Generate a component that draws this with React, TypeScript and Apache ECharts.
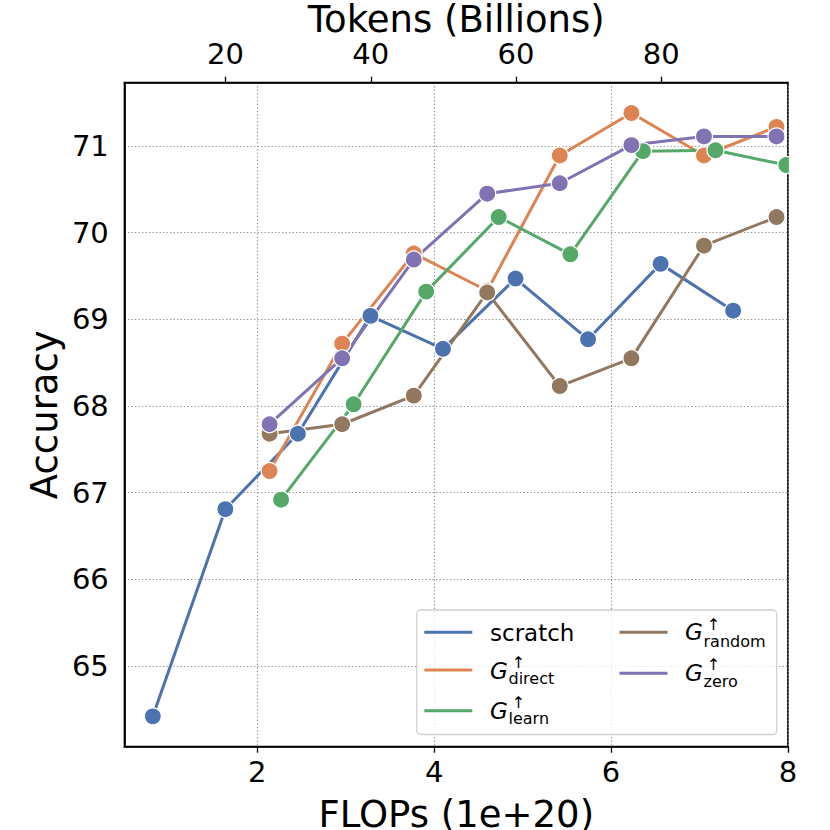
import React, { useEffect, useRef } from "react";
import * as echarts from "echarts";

// ---- data ----
const FLOPS_MIN = 0.5;
const FLOPS_MAX = 8;
const ACC_MIN = 64.07;
const ACC_MAX = 71.73;
const FLOPS_PER_BTOKEN = 0.0821; // FLOPs (1e20) per billion tokens

const flopTicks = [2, 4, 6, 8];
const tokenTicks = [20, 40, 60, 80];
const accTicks = [65, 66, 67, 68, 69, 70, 71];

const scratchX = [0.82, 1.64, 2.46, 3.28, 4.1, 4.92, 5.74, 6.56, 7.38];
const scratchY = [64.42, 66.81, 67.68, 69.04, 68.66, 69.47, 68.77, 69.64, 69.1];

const directX = [2.14, 2.96, 3.77, 4.6, 5.42, 6.23, 7.05, 7.87];
const directY = [67.25, 68.72, 69.76, 69.33, 70.89, 71.38, 70.89, 71.22];

const learnX = [2.27, 3.09, 3.91, 4.73, 5.54, 6.36, 7.18, 7.98];
const learnY = [66.92, 68.02, 69.32, 70.18, 69.75, 70.94, 70.95, 70.78];

const randomX = [2.14, 2.96, 3.77, 4.6, 5.42, 6.23, 7.05, 7.87];
const randomY = [67.68, 67.79, 68.12, 69.31, 68.23, 68.55, 69.85, 70.18];

const zeroX = [2.14, 2.96, 3.77, 4.6, 5.42, 6.23, 7.05, 7.87];
const zeroY = [67.79, 68.55, 69.69, 70.45, 70.57, 71.01, 71.11, 71.11];

const COLORS = {
  scratch: "#4C72B0",
  direct: "#DD8452",
  learn: "#55A868",
  random: "#937860",
  zero: "#8172B3",
};

const FONT = "DejaVu Sans";

function pairs(xs: number[], ys: number[]) {
  return xs.map((x, i) => [x, ys[i]]);
}

function lineSeries(name: string, color: string, xs: number[], ys: number[]) {
  return {
    name,
    type: "line",
    data: pairs(xs, ys),
    symbol: "circle",
    symbolSize: 17,
    showSymbol: true,
    lineStyle: { color, width: 3 },
    itemStyle: { color, borderColor: "#ffffff", borderWidth: 1.2 },
    emphasis: { disabled: true },
    silent: true,
    clip: true,
  };
}

function legendItem(
  color: string,
  lx: number,
  ly: number,
  tx: number,
  base: number,
  sub: string | null,
  subBase: number,
  arrowY: number,
  plain: string | null
) {
  const els: any[] = [
    {
      type: "line",
      shape: { x1: lx, y1: ly, x2: lx + 48, y2: ly },
      style: { stroke: color, lineWidth: 3 },
      z: 101,
    },
  ];
  if (plain) {
    els.push({
      type: "text",
      x: tx,
      y: base - 0.33 * 23,
      style: {
        text: plain,
        fontSize: 23,
        fontFamily: FONT,
        fill: "#000",
        align: "left",
        verticalAlign: "middle",
      },
      z: 101,
    });
  } else {
    els.push({
      type: "text",
      x: tx,
      y: base - 0.33 * 23,
      style: {
        text: "G",
        fontSize: 23,
        fontStyle: "italic",
        fontFamily: FONT,
        fill: "#000",
        align: "left",
        verticalAlign: "middle",
      },
      z: 101,
    });
    els.push({
      type: "text",
      x: tx + 18.5,
      y: subBase - 0.33 * 16,
      style: {
        text: sub,
        fontSize: 16,
        lineHeight: 12,
        fontFamily: FONT,
        fill: "#000",
        align: "left",
        verticalAlign: "middle",
      },
      z: 101,
    });
    els.push({
      type: "text",
      x: tx + 28.5,
      y: arrowY - 1,
      style: {
        text: "\u2191",
        fontSize: 16,
        lineHeight: 9,
        fontFamily: FONT,
        fill: "#000",
        align: "center",
        verticalAlign: "middle",
      },
      z: 101,
    });
  }
  return els;
}

export default function App() {
  const ref = useRef<HTMLDivElement>(null);

  useEffect(() => {
    if (!ref.current) return;
    const chart = echarts.init(ref.current, null, { renderer: "svg" });

    const gridTop = 82.7;
    const gridLeft = 124.5;
    const gridRight = 42;
    const gridBottom = 83.3;

    const legendEls: any[] = [
      // mask: markers are clipped at the right frame, as in the reference
      {
        type: "rect",
        shape: { x: 830 - gridRight + 0.9, y: gridTop - 10, width: 60, height: 830 - gridTop - gridBottom + 9 },
        style: { fill: "#ffffff" },
        z: 90,
        silent: true,
      },
      {
        type: "rect",
        shape: { x: 416.7, y: 610, width: 360, height: 124.5, r: 4 },
        style: { fill: "rgba(255,255,255,0.8)", stroke: "#d0d0d0", lineWidth: 1.3 },
        z: 100,
      },
      ...legendItem(COLORS.scratch, 424.3, 632.3, 490, 641, null, 0, 0, "scratch"),
      ...legendItem(COLORS.direct, 424.3, 670, 490, 679, "direct", 684, 663, null),
      ...legendItem(COLORS.learn, 424.3, 710.7, 490, 718.3, "learn", 724, 703.3, null),
      ...legendItem(COLORS.random, 619.5, 632.3, 685, 640, "random", 646.7, 625, null),
      ...legendItem(COLORS.zero, 619.5, 673.3, 685, 681, "zero", 686.7, 665, null),
    ];

    chart.setOption({
      animation: false,
      backgroundColor: "#ffffff",
      textStyle: { fontFamily: FONT },
      grid: {
        show: true,
        left: gridLeft,
        right: gridRight,
        top: gridTop,
        bottom: gridBottom,
        borderColor: "#000000",
        borderWidth: 1.7,
        backgroundColor: "transparent",
        containLabel: false,
        outerBoundsMode: "none",
      },
      xAxis: [
        {
          type: "value",
          position: "bottom",
          min: FLOPS_MIN,
          max: FLOPS_MAX,
          splitNumber: 4,
          name: "FLOPs (1e+20)",
          nameLocation: "middle",
          nameGap: 49,
          nameMoveOverlap: false,
          nameTextStyle: { fontSize: 37, color: "#000", fontFamily: FONT },
          axisLine: { show: true, lineStyle: { color: "#000", width: 1.7 } },
          axisTick: {
            show: true,
            length: 6,
            lineStyle: { color: "#000", width: 1.3 },
            customValues: flopTicks,
          },
          axisLabel: {
            fontSize: 29,
            color: "#000",
            margin: 11,
            customValues: flopTicks,
            formatter: (v: number) => String(v),
          },
          splitLine: {
            show: true,
            lineStyle: { color: "#8f8f8f", width: 1.2, type: [1.3, 2.2] },
          },
        },
        {
          type: "value",
          position: "top",
          min: FLOPS_MIN / FLOPS_PER_BTOKEN,
          max: FLOPS_MAX / FLOPS_PER_BTOKEN,
          splitNumber: 5,
          name: "Tokens (Billions)",
          nameLocation: "middle",
          nameGap: 44.7,
          nameMoveOverlap: false,
          nameTextStyle: { fontSize: 37, color: "#000", fontFamily: FONT },
          axisLine: { show: true, lineStyle: { color: "#000", width: 1.7 } },
          axisTick: {
            show: true,
            length: 6,
            lineStyle: { color: "#000", width: 1.3 },
            customValues: tokenTicks,
          },
          axisLabel: {
            fontSize: 29,
            color: "#000",
            margin: 14.5,
            customValues: tokenTicks,
            formatter: (v: number) => String(v),
          },
          splitLine: { show: false },
        },
      ],
      yAxis: {
        type: "value",
        min: ACC_MIN,
        max: ACC_MAX,
        splitNumber: 7,
        name: "Accuracy",
        nameLocation: "middle",
        nameRotate: 90,
        nameGap: 62,
        nameMoveOverlap: false,
        nameTextStyle: { fontSize: 37, color: "#000", fontFamily: FONT },
        axisLine: { show: true, lineStyle: { color: "#000", width: 1.7 } },
        axisTick: { show: false, customValues: accTicks },
        axisLabel: {
          fontSize: 29,
          color: "#000",
          margin: 15.7,
          customValues: accTicks,
          formatter: (v: number) => String(v),
        },
        splitLine: {
          show: true,
          lineStyle: { color: "#8f8f8f", width: 1.2, type: [1.3, 2.2] },
        },
      },
      series: [
        lineSeries("scratch", COLORS.scratch, scratchX, scratchY),
        lineSeries("G direct", COLORS.direct, directX, directY),
        lineSeries("G learn", COLORS.learn, learnX, learnY),
        lineSeries("G random", COLORS.random, randomX, randomY),
        lineSeries("G zero", COLORS.zero, zeroX, zeroY),
      ],
      graphic: { elements: legendEls },
    });

    return () => chart.dispose();
  }, []);

  return (
    <div
      ref={ref}
      style={{ position: "absolute", left: 0, top: 0, width: 830, height: 830 }}
    />
  );
}
